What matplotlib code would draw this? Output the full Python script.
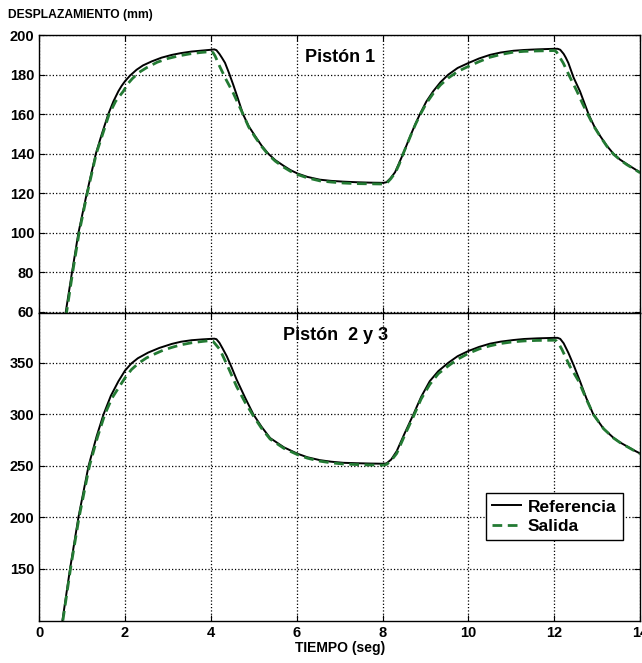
import matplotlib
matplotlib.use('Agg')
import matplotlib.pyplot as plt

plt.rcParams['font.family'] = ['Liberation Sans', 'DejaVu Sans']
plt.rcParams['font.weight'] = 'bold'

# Piston 1 - reference (t seg, mm)
t_ref1 = [0.55, 0.62, 0.75, 0.915, 1.11, 1.32, 1.46, 1.61, 1.73, 1.845, 1.92, 2.0, 2.12, 2.27, 2.42,
          2.62, 2.85, 3.09, 3.3, 3.55, 3.8, 4.0, 4.08, 4.13, 4.2, 4.26, 4.33, 4.42, 4.52, 4.62,
          4.75, 4.88, 5.03, 5.18, 5.34, 5.5, 5.69, 5.85, 6.02, 6.25, 6.54, 6.8, 7.09, 7.4, 7.71,
          8.02, 8.09, 8.18, 8.29, 8.38, 8.48, 8.58, 8.68, 8.77, 8.87, 9.02, 9.18, 9.35, 9.53, 9.75,
          10.0, 10.25, 10.5, 10.75, 11.05, 11.3, 11.6, 12.0, 12.08, 12.14, 12.22, 12.27, 12.33, 12.45,
          12.6, 12.7, 12.8, 12.93, 13.07, 13.22, 13.38, 13.53, 13.69, 13.85, 14.0]
y_ref1 = [50, 60, 78, 100, 120, 140, 150, 160, 166.5, 171.6, 174.3, 176.7, 179.6, 182.5, 184.7,
          186.7, 188.6, 190, 190.9, 191.7, 192.2, 192.6, 192.8, 192.4, 190.5, 188.5, 186, 181, 175, 168.6,
          160, 154, 149, 144.2, 140, 136.8, 134, 131.8, 130, 128.3, 126.9, 126.3, 125.9, 125.6, 125.4,
          125.3, 125.6, 127.5, 130.6, 135, 140, 145.4, 150.7, 155.3, 160, 166.4, 171.6, 176.2, 180, 183.4,
          185.9, 188.2, 190, 191.2, 192.1, 192.5, 192.8, 193.1, 193.1, 192.6, 190.5, 188.6, 185.9, 178.6,
          171.6, 165.8, 160, 154, 149, 144.2, 140, 137.1, 134.8, 132.6, 130.6]
# Piston 1 - output
t_out1 = [0.55, 0.64, 0.78, 0.93, 1.12, 1.33, 1.48, 1.63, 1.78, 1.96, 2.07, 2.17, 2.33, 2.5, 2.75,
          3.0, 3.25, 3.5, 3.75, 4.0, 4.05, 4.1, 4.21, 4.36, 4.52, 4.63, 4.75, 4.88, 5.03, 5.18,
          5.34, 5.5, 5.69, 5.85, 6.02, 6.25, 6.54, 6.8, 7.09, 7.4, 7.71, 8.02, 8.1, 8.19, 8.3,
          8.39, 8.48, 8.58, 8.68, 8.77, 8.87, 9.02, 9.18, 9.35, 9.53, 9.75, 10.0, 10.25, 10.5, 10.75,
          11.05, 11.3, 11.6, 12.0, 12.05, 12.1, 12.21, 12.37, 12.53, 12.65, 12.78, 12.92, 13.07, 13.22,
          13.38, 13.53, 13.69, 13.85, 14.0]
y_out1 = [50, 60, 80, 100, 120, 140, 150, 160, 166.5, 171.6, 175.5, 178, 181.2, 183.5, 186.3,
          188.2, 189.5, 190.5, 191.2, 191.7, 191.2, 189.4, 184, 177.3, 170.8, 165.6, 160, 153.6, 148.5, 143.8,
          139.5, 136.3, 133.3, 131.2, 129.5, 127.8, 126.3, 125.7, 125.2, 124.9, 124.8, 124.7, 125.2, 127.3, 130.5,
          134.8, 140, 145.2, 150.5, 155, 159.5, 165.5, 170.5, 174.8, 178.3, 181.6, 184.2, 186.6, 188.8, 190.2,
          191.4, 191.8, 192, 192.2, 191.6, 189.8, 185.9, 178.6, 171.6, 165.8, 160, 154, 148.8, 144,
          139.8, 137, 134.5, 132.4, 130.4]

# Piston 2 y 3 - reference
t_ref2 = [0.5, 0.54, 0.72, 0.915, 1.15, 1.34, 1.5, 1.67, 1.845, 2.0, 2.15, 2.3, 2.54, 2.8, 3.09,
          3.3, 3.55, 3.8, 4.0, 4.08, 4.13, 4.2, 4.28, 4.37, 4.48, 4.6, 4.8, 4.99, 5.18, 5.38,
          5.7, 6.02, 6.25, 6.54, 6.8, 7.09, 7.4, 7.71, 8.02, 8.09, 8.2, 8.33, 8.52, 8.72, 8.9,
          9.1, 9.3, 9.53, 9.75, 10.0, 10.25, 10.5, 10.75, 11.05, 11.3, 11.6, 12.0, 12.08, 12.14,
          12.22, 12.33, 12.46, 12.6, 12.75, 12.91, 13.15, 13.38, 13.53, 13.69, 13.85, 14.0]
y_ref2 = [85, 99, 150, 200, 249.7, 278.8, 300, 318, 332, 342.5, 349.5, 354.5, 360, 364.5, 368.4,
          370.5, 372, 372.8, 373.3, 373.5, 373, 369.5, 363.5, 356.5, 346, 333.8, 316, 300, 288, 277,
          268, 261.7, 258.3, 255.5, 254, 252.9, 252.5, 252.2, 252, 252.3, 256, 264.2, 282, 300, 317,
          332.2, 342, 350, 356.5, 361.5, 365.5, 368.6, 370.6, 372.2, 373.2, 373.8, 374.3, 374.3, 373.3,
          369, 359.7, 347, 332.2, 315.5, 300, 286, 277.2, 272.8, 269, 265.2, 262]
# Piston 2 y 3 - output
t_out2 = [0.5, 0.55, 0.73, 0.93, 1.17, 1.36, 1.53, 1.7, 1.9, 2.0, 2.15, 2.31, 2.5, 2.7, 2.9,
          3.09, 3.3, 3.55, 3.8, 4.0, 4.05, 4.1, 4.21, 4.4, 4.6, 4.8, 4.99, 5.18, 5.38, 5.7,
          6.02, 6.25, 6.54, 6.8, 7.09, 7.4, 7.71, 8.02, 8.1, 8.2, 8.33, 8.52, 8.72, 8.9, 9.1,
          9.3, 9.53, 9.75, 10.0, 10.25, 10.5, 10.75, 11.05, 11.3, 11.6, 12.0, 12.05, 12.1, 12.18,
          12.36, 12.57, 12.74, 12.91, 13.15, 13.38, 13.53, 13.69, 13.85, 14.0]
y_out2 = [85, 99, 150, 200, 249.7, 278, 300, 316, 329, 335.4, 343.5, 349.5, 354.8, 358.8, 362.5,
          365, 367.5, 369.5, 370.8, 371.7, 371, 368.5, 363, 346, 327, 311.5, 298.5, 286.5, 276, 267,
          260.8, 257.4, 254.5, 252.9, 251.7, 251.2, 250.8, 250.6, 251.5, 255, 262, 280, 298, 315, 329,
          339.5, 347, 353.5, 359.2, 363.5, 366.5, 368.8, 370.5, 371.3, 371.8, 372, 371.5, 369, 363,
          347, 332.2, 315.5, 300, 286, 277, 272.6, 268.8, 265, 261.8]

x_ticks = [0, 2, 4, 6, 8, 10, 12, 14]
y_ticks1 = [60, 80, 100, 120, 140, 160, 180, 200]
y_ticks2 = [150, 200, 250, 300, 350]

green = '#237a33'
dash = (0, (3.5, 2))

fig = plt.figure(figsize=(6.42, 6.63), dpi=100)
ax1 = fig.add_axes([0.061, 0.528, 0.936, 0.419])
ax2 = fig.add_axes([0.061, 0.063, 0.936, 0.465])

for ax in (ax1, ax2):
    ax.set_xlim(0, 14)
    ax.set_xticks(x_ticks)
    ax.grid(True, color='black', linestyle=':', linewidth=0.9)
    ax.tick_params(direction='in', length=4, top=True, right=True, labelsize=10.5, width=0.8)
    for s in ax.spines.values():
        s.set_linewidth(1.0)

ax1.plot(t_ref1, y_ref1, color='black', lw=1.4)
ax1.plot(t_out1, y_out1, color=green, lw=2.0, ls=dash)
ax1.set_ylim(59.5, 200)
ax1.set_yticks(y_ticks1)
ax1.set_xticklabels([])
ax1.text(7.0, 188.5, 'Pistón 1', fontsize=13, fontweight='bold', ha='center', va='center')

ax2.plot(t_ref2, y_ref2, color='black', lw=1.4, label='Referencia')
ax2.plot(t_out2, y_out2, color=green, lw=2.0, ls=dash, label='Salida')
ax2.set_ylim(99, 398.5)
ax2.set_yticks(y_ticks2)
ax2.text(6.9, 377, 'Pistón  2 y 3', fontsize=13, fontweight='bold', ha='center', va='center')
leg = ax2.legend(loc='upper left', bbox_to_anchor=(0.744, 0.415), fontsize=12.5, frameon=True,
                 fancybox=False, framealpha=1, edgecolor='black', handlelength=1.65,
                 borderpad=0.35, labelspacing=0.25, handletextpad=0.4, borderaxespad=0)
leg.get_frame().set_linewidth(1.0)

fig.text(0.012, 0.977, 'DESPLAZAMIENTO (mm)', fontsize=8.7, fontweight='bold', ha='left', va='center')
fig.text(0.53, 0.022, 'TIEMPO (seg)', fontsize=10, fontweight='bold', ha='center', va='center')

plt.savefig('out.png', dpi=100)
